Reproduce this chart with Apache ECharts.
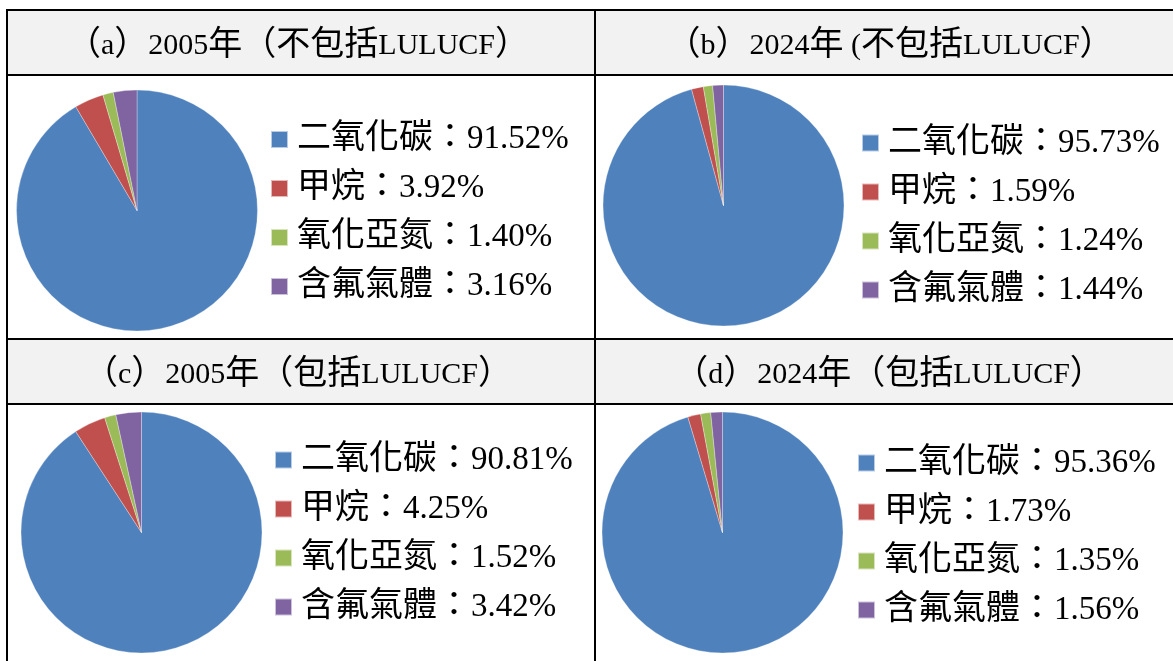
<!DOCTYPE html>
<html>
<head>
<meta charset="utf-8">
<title>溫室氣體排放占比</title>
<script src="https://cdn.jsdelivr.net/npm/echarts@6/dist/echarts.min.js"></script>
<style>
  html, body { margin: 0; padding: 0; background: #fff; }
  #main { width: 1173px; height: 661px; }
</style>
</head>
<body>
<div id="main"></div>
<script>
// 各氣體名稱與四個情境的占比 (%)
var gasNames = ['二氧化碳', '甲烷', '氧化亞氮', '含氟氣體'];
var share2005Excl = [91.52, 3.92, 1.40, 3.16];
var share2024Excl = [95.73, 1.59, 1.24, 1.44];
var share2005Incl = [90.81, 4.25, 1.52, 3.42];
var share2024Incl = [95.36, 1.73, 1.35, 1.56];
var panelTitles = [
  '（a）2005年（不包括LULUCF）',
  '（b）2024年 (不包括LULUCF）',
  '（c）2005年（包括LULUCF）',
  '（d）2024年（包括LULUCF）'
];
var gasColors = ['#4f81bd', '#c0504d', '#9bbb59', '#8064a2'];

var FONT = "'Liberation Serif', 'Noto Sans CJK TC', serif";

// 每個格子的位置
var panels = [
  { vals: share2005Excl, titleX: 298, titleY: 29, center: [137, 210.5], legX: 270, legY: 122.5 },
  { vals: share2024Excl, titleX: 890, titleY: 29, center: [723.5, 205.5], legX: 861, legY: 126 },
  { vals: share2005Incl, titleX: 298, titleY: 358, center: [141.5, 532.5], legX: 274, legY: 443 },
  { vals: share2024Incl, titleX: 889, titleY: 358, center: [722.5, 532.5], legX: 857, legY: 446 }
];

// 把中文 / 全形字與西文字分成不同的 rich 片段
function richText(s) {
  return s.replace(/[\u3000-\u9fff\uff00-\uffef]+|[^\u3000-\u9fff\uff00-\uffef]+/g, function (m) {
    return (/[\u3000-\u9fff\uff00-\uffef]/.test(m) ? '{c|' : '{n|') + m + '}';
  });
}

var myChart = echarts.init(document.getElementById('main'));

var titles = [], legends = [], series = [];
for (var i = 0; i < panels.length; i++) {
  var p = panels[i];
  titles.push({
    text: richText(panelTitles[i]),
    left: p.titleX,
    top: p.titleY,
    textAlign: 'center',
    padding: 0,
    textStyle: {
      color: '#000',
      fontWeight: 'normal',
      rich: {
        c: { fontFamily: FONT, fontSize: 34, lineHeight: 34, fontWeight: 'normal', color: '#000' },
        n: { fontFamily: FONT, fontSize: 30, lineHeight: 34, fontWeight: 'normal', color: '#000' }
      }
    }
  });
  (function (vals) {
    legends.push({
      orient: 'vertical',
      left: p.legX,
      top: p.legY,
      padding: 0,
      icon: 'rect',
      itemWidth: 17,
      itemHeight: 17,
      itemGap: 15,
      selectedMode: false,
      data: gasNames,
      formatter: function (name) {
        var k = gasNames.indexOf(name);
        return '{c|' + name + '：}{n|' + vals[k].toFixed(2) + '%}';
      },
      textStyle: {
        color: '#000',
        rich: {
          c: { fontFamily: FONT, fontSize: 34, lineHeight: 34, color: '#000', padding: [0, 0, 0, 4] },
          n: { fontFamily: FONT, fontSize: 33, lineHeight: 34, color: '#000' }
        }
      }
    });
  })(p.vals);
  var data = [];
  for (var k = 0; k < gasNames.length; k++) {
    data.push({ name: gasNames[k], value: p.vals[k] });
  }
  series.push({
    type: 'pie',
    center: p.center,
    radius: 120.5,
    startAngle: 90,
    clockwise: true,
    label: { show: false },
    labelLine: { show: false },
    emphasis: { disabled: true },
    itemStyle: { borderColor: 'rgba(255,255,255,0.6)', borderWidth: 0.5 },
    data: data
  });
}

// 表格框線與表頭底色
var LINE = { stroke: '#000', lineWidth: 2 };
var graphics = [
  { type: 'rect', z: -10, shape: { x: 7, y: 10, width: 1170, height: 65 }, style: { fill: '#f2f2f2' } },
  { type: 'rect', z: -10, shape: { x: 7, y: 339, width: 1170, height: 65 }, style: { fill: '#f2f2f2' } },
  { type: 'line', shape: { x1: 7, y1: 10, x2: 1180, y2: 10 }, style: LINE },
  { type: 'line', shape: { x1: 7, y1: 75, x2: 1180, y2: 75 }, style: LINE },
  { type: 'line', shape: { x1: 7, y1: 339, x2: 1180, y2: 339 }, style: LINE },
  { type: 'line', shape: { x1: 7, y1: 404, x2: 1180, y2: 404 }, style: LINE },
  { type: 'line', shape: { x1: 7, y1: 9, x2: 7, y2: 670 }, style: LINE },
  { type: 'line', shape: { x1: 595, y1: 9, x2: 595, y2: 670 }, style: LINE }
];

var option = {
  backgroundColor: '#fff',
  animation: false,
  color: gasColors,
  title: titles,
  legend: legends,
  graphic: { elements: graphics },
  series: series
};
myChart.setOption(option);
window.addEventListener('resize', myChart.resize);
</script>
</body>
</html>
